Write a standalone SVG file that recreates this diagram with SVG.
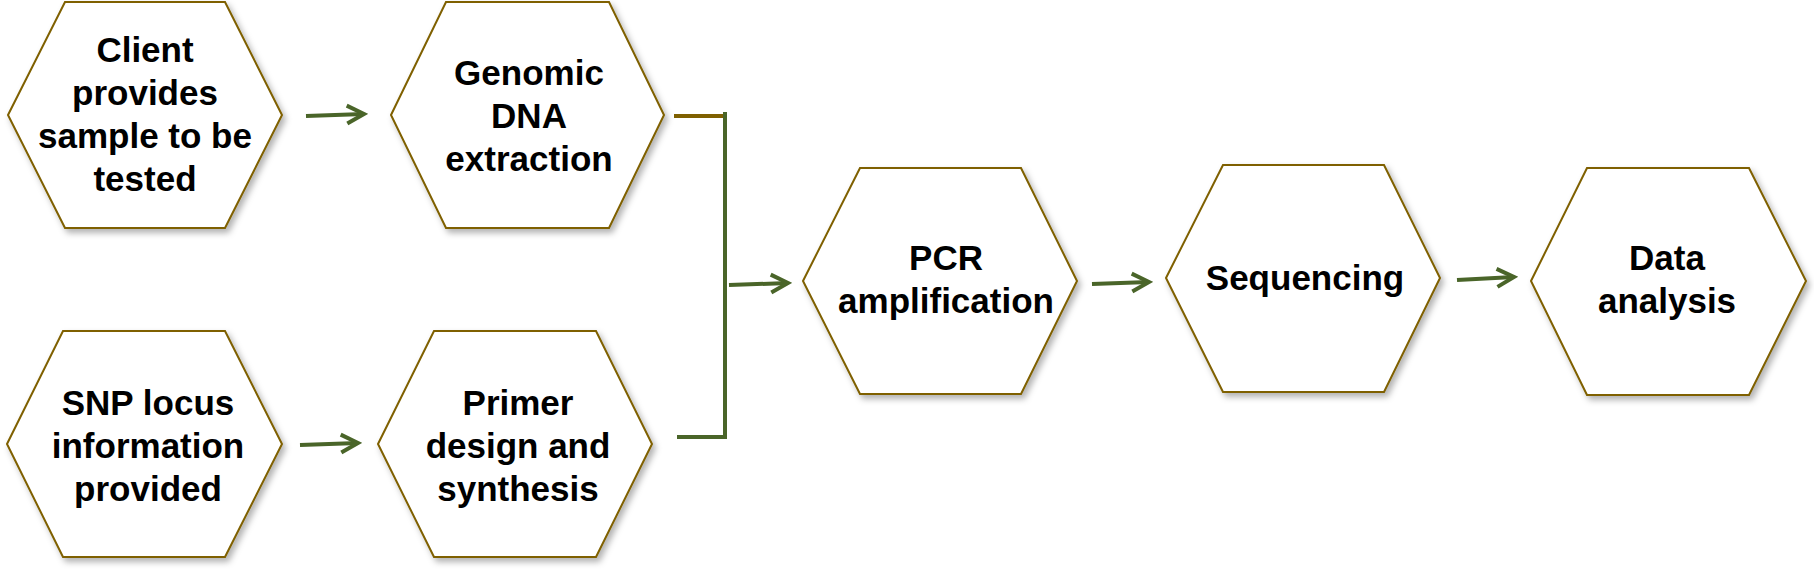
<svg xmlns="http://www.w3.org/2000/svg" width="1814" height="571" viewBox="0 0 1814 571">
<defs>
<style>
.hex{fill:#ffffff;stroke:#7F6000;stroke-width:2;filter:url(#sh)}
.lbl{font-family:"Liberation Sans",Arial,sans-serif;font-weight:bold;font-size:35px;fill:#000000;text-anchor:middle}
.arr{stroke:#4A6529;stroke-width:4;fill:none;marker-end:url(#ah)}
.grn{stroke:#4A6529;stroke-width:4;fill:none}
.brn{stroke:#7F6000;stroke-width:4;fill:none}
</style>
<filter id="sh" x="-10%" y="-10%" width="125%" height="125%">
<feDropShadow dx="3" dy="4" stdDeviation="3" flood-color="#000000" flood-opacity="0.3"/>
</filter>
<marker id="ah" markerUnits="userSpaceOnUse" viewBox="-22 -13 26 26" markerWidth="26" markerHeight="26" refX="0" refY="0" orient="auto">
<path d="M-17,-9 L0,0 L-17,9" fill="none" stroke="#4A6529" stroke-width="4" stroke-linejoin="miter"/>
</marker>
</defs>
<g id="n1">
<polygon class="hex" points="8,115 65,2 225,2 282,115 225,228 65,228"/>
<text class="lbl" x="145"><tspan x="145" y="62">Client</tspan><tspan x="145" y="105">provides</tspan><tspan x="145" y="148">sample to be</tspan><tspan x="145" y="191">tested</tspan></text>
</g>
<g id="n2">
<polygon class="hex" points="391,115 446,2 609,2 664,115 609,228 446,228"/>
<text class="lbl"><tspan x="529" y="85">Genomic</tspan><tspan x="529" y="128">DNA</tspan><tspan x="529" y="171">extraction</tspan></text>
</g>
<g id="n3">
<polygon class="hex" points="7,444 63,331 225,331 282,444 225,557 63,557"/>
<text class="lbl"><tspan x="148" y="415">SNP locus</tspan><tspan x="148" y="458">information</tspan><tspan x="148" y="501">provided</tspan></text>
</g>
<g id="n4">
<polygon class="hex" points="378,444 434,331 596,331 652,444 596,557 434,557"/>
<text class="lbl"><tspan x="518" y="415">Primer</tspan><tspan x="518" y="458">design and</tspan><tspan x="518" y="501">synthesis</tspan></text>
</g>
<g id="n5">
<polygon class="hex" points="803,281 860,168 1021,168 1077,281 1021,394 860,394"/>
<text class="lbl"><tspan x="946" y="270">PCR</tspan><tspan x="946" y="313">amplification</tspan></text>
</g>
<g id="n6">
<polygon class="hex" points="1166,278 1223,165 1384,165 1440,278 1384,392 1223,392"/>
<text class="lbl" x="1305" y="290">Sequencing</text>
</g>
<g id="n7">
<polygon class="hex" points="1531,281 1587,168 1749,168 1806,281 1749,395 1587,395"/>
<text class="lbl"><tspan x="1667" y="270">Data</tspan><tspan x="1667" y="313">analysis</tspan></text>
</g>
<g id="connectors">
<line class="arr" x1="306" y1="116" x2="364" y2="114"/>
<line class="arr" x1="300" y1="445" x2="358" y2="443"/>
<line class="brn" x1="674" y1="116" x2="724" y2="116"/>
<polyline class="grn" points="677,437 725,437 725,112"/>
<line class="arr" x1="729" y1="285" x2="788" y2="283"/>
<line class="arr" x1="1092" y1="284" x2="1149" y2="282"/>
<line class="arr" x1="1457" y1="280" x2="1514" y2="277"/>
</g>
</svg>
